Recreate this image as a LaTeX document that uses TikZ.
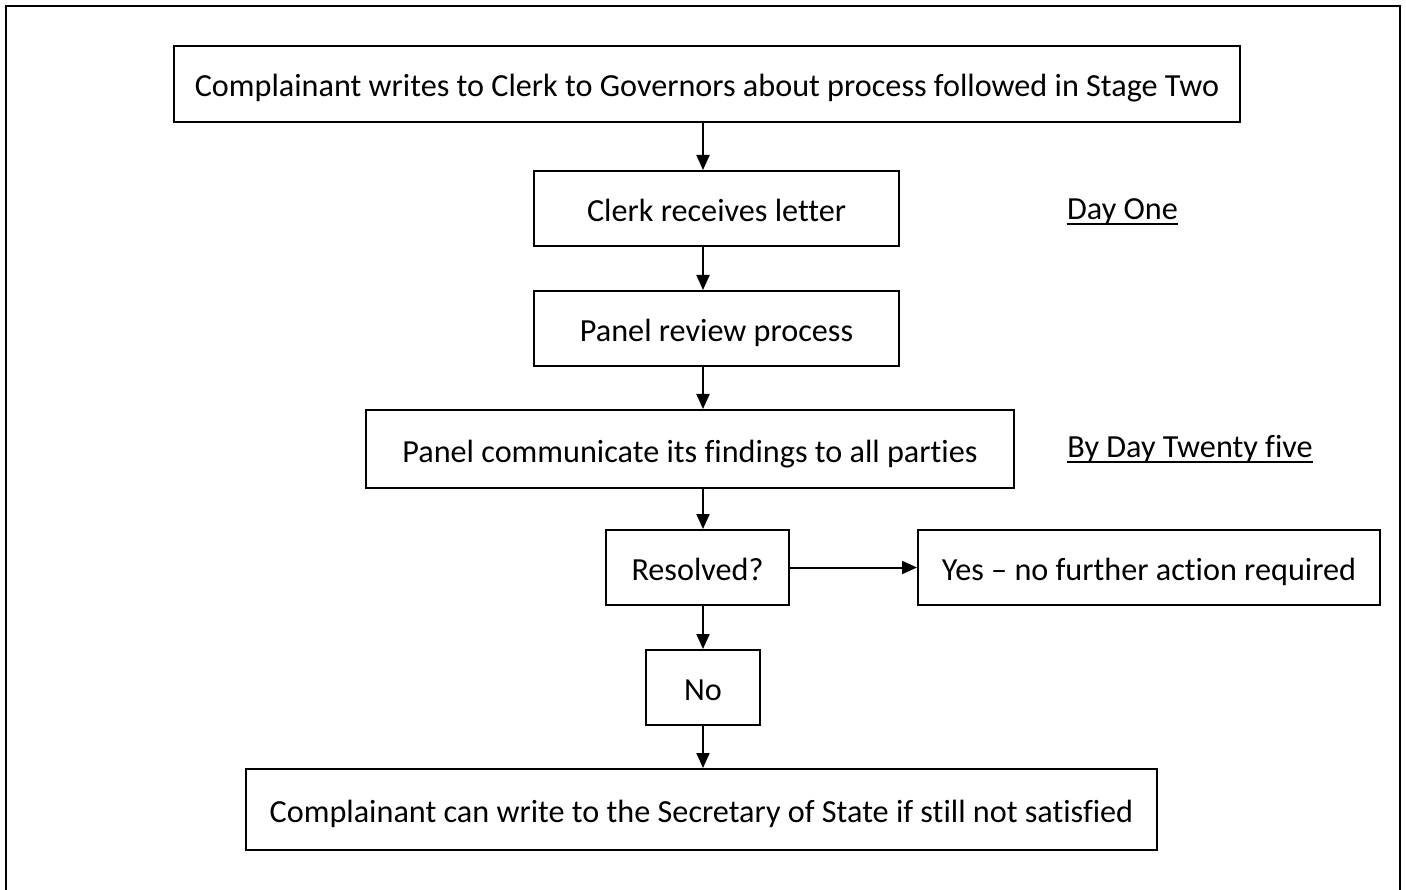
\documentclass[tikz,border=0pt]{standalone}
\usepackage{fontspec}
\setmainfont{Carlito}[Ligatures=NoCommon]
\usetikzlibrary{arrows.meta}
\begin{document}
\begin{tikzpicture}[x=1pt,y=-1pt,
  box/.style={draw=black,line width=2pt,inner sep=0pt,anchor=center,text height=26pt,text depth=0pt,font=\fontsize{32.2}{40}\selectfont},
  lbl/.style={inner sep=0pt,anchor=base,font=\fontsize{32.2}{40}\selectfont},
  uline/.style={line width=2.6pt},
  arr/.style={line width=2pt,-{Triangle[length=15pt,width=13pt]}}]
\useasboundingbox (0,0) rectangle (1406,890);
\draw[line width=2pt] (6,892) -- (6,6) -- (1400,6) -- (1400,892);
\node[box,minimum width=1066pt,minimum height=76pt] (a) at (707,84) {Complainant writes to Clerk to Governors about process followed in Stage Two};
\node[box,minimum width=365pt,minimum height=75pt] (b) at (716.5,208.5) {Clerk receives letter};
\node[box,minimum width=365pt,minimum height=75pt] (c) at (716.5,328.5) {Panel review process};
\node[box,minimum width=648pt,minimum height=78pt] (d) at (690,449) {Panel communicate its findings to all parties};
\node[box,minimum width=183pt,minimum height=75pt] (e) at (697.5,567.5) {Resolved?};
\node[box,minimum width=462pt,minimum height=75pt] (f) at (1149,567.5) {Yes – no further action required};
\node[box,minimum width=114pt,minimum height=75pt] (g) at (703,687.5) {No};
\node[box,minimum width=911pt,minimum height=81pt] (h) at (701.5,809.5) {Complainant can write to the Secretary of State if still not satisfied};
\node[lbl] (l1) at (1122.5,220) {Day One};
\node[lbl] (l2) at (1190,457) {By Day Twenty five};
\draw[uline] ([yshift=-4pt]l1.base west) -- ([yshift=-4pt]l1.base east);
\draw[uline] ([yshift=-5pt]l2.base west) -- ([yshift=-5pt]l2.base east);
\draw[arr] (a.south -| 703,0) -- (b.north -| 703,0);
\draw[arr] (b.south -| 703,0) -- (c.north -| 703,0);
\draw[arr] (c.south -| 703,0) -- (d.north -| 703,0);
\draw[arr] (d.south -| 703,0) -- (e.north -| 703,0);
\draw[arr] (e.east) -- (f.west);
\draw[arr] (e.south -| 703,0) -- (g.north);
\draw[arr] (g.south) -- (h.north -| 703,0);
\end{tikzpicture}
\end{document}
